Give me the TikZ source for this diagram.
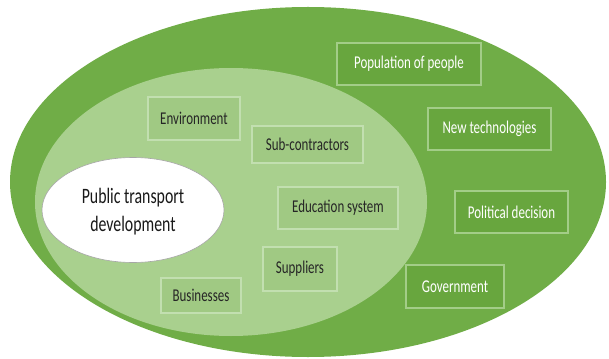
\documentclass[tikz,border=0pt]{standalone}
\usepackage{fontspec}
\usetikzlibrary{shapes.geometric}
\newfontfamily\calfont[FakeStretch=0.72]{Carlito}
\definecolor{outerg}{RGB}{112,173,71}
\definecolor{innerg}{RGB}{169,208,142}
\definecolor{inbox}{RGB}{160,201,131}
\definecolor{inboxline}{RGB}{194,223,176}
\definecolor{outbox}{RGB}{104,166,62}
\definecolor{outboxline}{RGB}{163,205,136}
\tikzset{
  boxbase/.style={rectangle, line width=1.3pt, inner sep=0pt,
    font=\calfont\fontsize{18}{20}\selectfont},
  ibox/.style={boxbase, draw=inboxline, fill=inbox, text=black!85},
  obox/.style={boxbase, draw=outboxline, fill=outbox, text=white},
}
\begin{document}
\begin{tikzpicture}[x=1pt,y=-1pt]
\useasboundingbox (0,0) rectangle (609,358);
\node[ellipse, fill=outerg, inner sep=0pt, minimum width=596pt, minimum height=350pt] (outer) at (308,182) {};
\node[ellipse, fill=innerg, inner sep=0pt, minimum width=392pt, minimum height=268pt] (inner) at (231,202) {};
\node[ellipse, fill=white, draw=black!35, line width=0.6pt, inner sep=0pt, minimum width=182pt, minimum height=105pt] (core) at (133,210) {};
\node[align=center, text=black!90, font=\calfont\fontsize{22}{28}\selectfont] (coretext) at (133,212) {Public transport\\development};

\node[ibox, minimum width=92pt, minimum height=43pt] (env) at (194,118.5) {Environment};
\node[ibox, minimum width=111pt, minimum height=37pt] (sub) at (307.5,144.5) {Sub-contractors};
\node[ibox, minimum width=120pt, minimum height=42pt] (edu) at (338,208) {Education system};
\node[ibox, minimum width=74pt, minimum height=44pt] (sup) at (300,269) {Suppliers};
\node[ibox, minimum width=80pt, minimum height=35pt] (bus) at (201,295.5) {Businesses};

\node[obox, minimum width=144pt, minimum height=42pt] (pop) at (409,64) {Population of people};
\node[obox, minimum width=123pt, minimum height=42pt] (tech) at (489.5,129) {New technologies};
\node[obox, minimum width=113pt, minimum height=42pt] (pol) at (511.5,212) {Political decision};
\node[obox, minimum width=98pt, minimum height=43pt] (gov) at (455,286.5) {Government};
\end{tikzpicture}
\end{document}
